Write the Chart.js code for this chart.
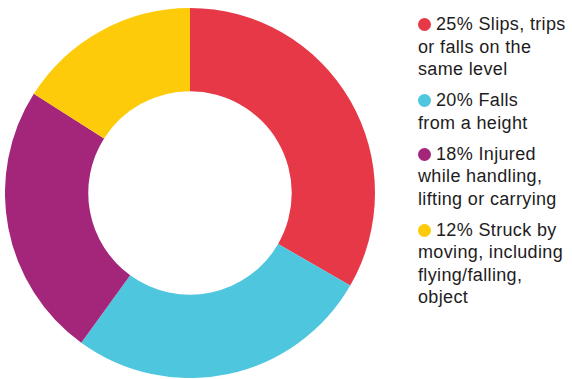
<!DOCTYPE html>
<html>
<head>
<meta charset="utf-8">
<script src="https://cdn.jsdelivr.net/npm/chart.js"></script>
<style>
  body { margin: 0; background: #fff; width: 572px; height: 379px; overflow: hidden; position: relative; }
  #chartBox { position: absolute; left: 5px; top: 8px; width: 370px; height: 370px; }
  #legend { position: absolute; left: 418px; top: 13px; width: 160px; font-family: "Liberation Sans", Arial, sans-serif; font-size: 18px; letter-spacing: 0.35px; line-height: 22.5px; color: #1e1c1d; }
  #legend .item { margin-bottom: 8.5px; white-space: pre-line; }
  #legend .dot { display: inline-block; width: 13px; height: 13px; border-radius: 50%; margin-right: 5px; vertical-align: -1px; }
</style>
</head>
<body>
<div id="chartBox"><canvas id="injuryChart" width="370" height="370"></canvas></div>
<div id="legend"></div>
<script>
// Share of injuries by cause
const categories = [
  'Slips, trips\nor falls on the\nsame level',
  'Falls\nfrom a height',
  'Injured\nwhile handling,\nlifting or carrying',
  'Struck by\nmoving, including\nflying/falling,\nobject'
];
const values = [25, 20, 18, 12];
const colors = ['#e73847', '#4dc6de', '#a3267a', '#fdcb0a'];

// Legend built as html so the labels wrap like the original
const legend = document.getElementById('legend');
categories.forEach((cat, i) => {
  const item = document.createElement('div');
  item.className = 'item';
  const dot = document.createElement('span');
  dot.className = 'dot';
  dot.style.background = colors[i];
  item.appendChild(dot);
  item.appendChild(document.createTextNode(values[i] + '% ' + cat));
  legend.appendChild(item);
});

const ctx = document.getElementById('injuryChart').getContext('2d');
new Chart(ctx, {
  type: 'doughnut',
  data: {
    labels: categories.map(c => c.replace(/\n/g, ' ')),
    datasets: [{
      data: values,
      backgroundColor: colors,
      borderWidth: 0,
    }],
  },
  options: {
    responsive: false,
    animation: false,
    cutout: '55%',
    layout: { padding: 0 },
    plugins: {
      legend: { display: false },
      tooltip: { enabled: false },
    },
  },
});
</script>
</body>
</html>
